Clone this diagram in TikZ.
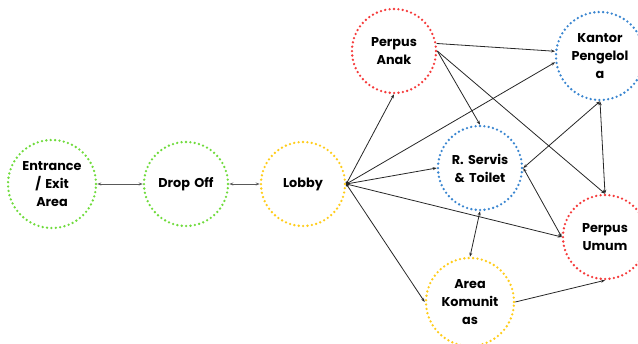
\documentclass[tikz,border=0pt]{standalone}
\usepackage{fontspec}
\setsansfont{Poppins}
\usetikzlibrary{arrows.meta}

\definecolor{ringgreen}{HTML}{6FDB3C}
\definecolor{ringyellow}{HTML}{FFCC1A}
\definecolor{ringred}{HTML}{F53B3B}
\definecolor{ringblue}{HTML}{3A86D0}

\tikzset{
  room/.style={circle, minimum size=84pt, inner sep=0pt, line width=2.6pt,
    dash pattern=on 0pt off 4.4pt, line cap=round, align=center,
    text width=76pt, font=\sffamily\bfseries\fontsize{12.8}{18}\selectfont},
  link/.style={line width=0.8pt, black!85, -{Stealth[length=4pt,width=3pt]}},
  twoway/.style={link, {Stealth[length=4pt,width=3pt]}-{Stealth[length=4pt,width=3pt]}},
}

\begin{document}
\begin{tikzpicture}[x=1pt, y=-1pt]
  \useasboundingbox (0,0) rectangle (638,344);
  % rooms
  \node[room, draw=ringgreen] (entrance) at (52,184) {Entrance\\/ Exit\\Area};
  \node[room, draw=ringgreen] (dropoff) at (186,184) {Drop Off};
  \node[room, draw=ringyellow] (lobby) at (303,184) {Lobby};
  \node[room, draw=ringred] (anak) at (394,51) {Perpus\\Anak};
  \node[room, draw=ringblue] (kantor) at (600,56) {Kantor\\Pengelol\\a};
  \node[room, draw=ringblue] (servis) at (480,168) {R. Servis\\\& Toilet};
  \node[room, draw=ringred] (umum) at (605,237) {Perpus\\Umum};
  \node[room, draw=ringyellow] (komunitas) at (470,302) {Area\\Komunit\\as};

  % corridors
  \draw[twoway, black!65] (entrance.east) -- (dropoff.west);
  \draw[twoway, black!65] (dropoff.east) -- (lobby.west);
  \foreach \to/\side in {anak/south, kantor/188, servis/west, umum/west, komunitas/west}
    \draw[link, {Circle[length=3pt]}-{Stealth[length=4pt,width=3pt]}] (lobby.east) -- (\to.\side);
  \draw[link] (anak.10) -- (kantor.174);
  \draw[link] (anak.east) -- (servis.north);
  \draw[link] (anak.east) -- (umum.north);
  \draw[twoway] (kantor.south) -- (umum.north);
  \draw[twoway] (kantor.south) -- (servis.east);
  \draw[twoway] (servis.east) -- (umum.west);
  \draw[twoway] (servis.south) -- (komunitas.north);
  \draw[link] (komunitas.east) -- (umum.south);
\end{tikzpicture}
\end{document}
